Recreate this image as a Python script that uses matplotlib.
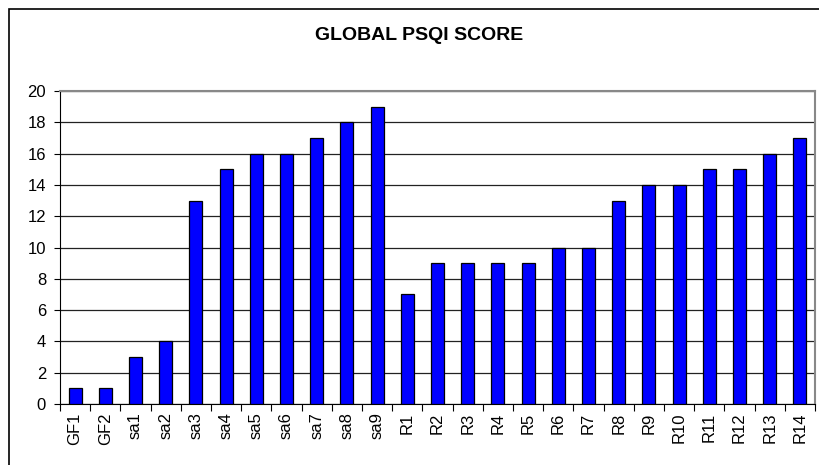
import matplotlib
matplotlib.use("Agg")
import matplotlib.pyplot as plt
from matplotlib.patches import Rectangle

categories = ["GF1", "GF2", "sa1", "sa2", "sa3", "sa4", "sa5", "sa6", "sa7", "sa8", "sa9",
              "R1", "R2", "R3", "R4", "R5", "R6", "R7", "R8", "R9", "R10", "R11", "R12", "R13", "R14"]
scores = [1, 1, 3, 4, 13, 15, 16, 16, 17, 18, 19,
          7, 9, 9, 9, 9, 10, 10, 13, 14, 14, 15, 15, 16, 17]
yticks = [0, 2, 4, 6, 8, 10, 12, 14, 16, 18, 20]
title = "GLOBAL PSQI SCORE"

plt.rcParams['font.family'] = ['Liberation Sans', 'DejaVu Sans']

W, H = 819, 465
fig = plt.figure(figsize=(W / 100, H / 100), dpi=100)

# outer chart frame (cut off at right and bottom)
fig.patches.append(Rectangle((9 / W, -0.05), 1.1, (H - 9) / H + 0.05, transform=fig.transFigure,
                             fill=False, edgecolor='black', linewidth=1.2, clip_on=False))

ax = fig.add_axes([60 / W, 1 - 404 / H, (815 - 60) / W, (404 - 91) / H])
x = list(range(len(categories)))
ax.bar(x, scores, width=0.43, color='#0000FF', edgecolor='black', linewidth=0.9, zorder=3)

ax.set_xlim(-0.5, len(categories) - 0.5)
ax.set_ylim(0, 20)
ax.set_yticks(yticks)
ax.set_yticklabels([str(v) for v in yticks], fontsize=12)
ax.set_xticks([i - 0.5 for i in range(len(categories) + 1)], minor=False)
ax.set_xticklabels([])
ax.set_xticks(x, minor=True)
ax.set_xticklabels(categories, minor=True, rotation=90, fontsize=12)
ax.tick_params(axis='x', which='minor', length=0, pad=6)
ax.tick_params(axis='x', which='major', length=5, direction='out', color='black')
ax.tick_params(axis='y', length=4, direction='out', pad=6)

ax.grid(axis='y', color='#222222', linewidth=0.9, zorder=0)
for side in ['top', 'right']:
    ax.spines[side].set_color('#888888')
    ax.spines[side].set_linewidth(1.5)
ax.spines['left'].set_color('black')
ax.spines['bottom'].set_color('black')

fig.text(419 / W, 1 - 36 / H, title, ha='center', va='center', fontsize=14, fontweight='bold')

fig.savefig("out.png", dpi=100)
